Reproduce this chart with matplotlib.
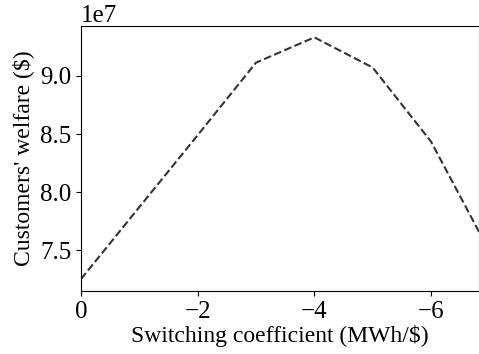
import matplotlib
matplotlib.use("Agg")
import matplotlib.pyplot as plt

# switching coefficient vs customers' welfare
switch_coef = [0, -1, -2, -3, -4, -5, -6, -7]
welfare = [7.25e7, 7.87e7, 8.49e7, 9.115e7, 9.333e7, 9.073e7, 8.435e7, 7.49e7]

plt.rcParams['font.family'] = ['Liberation Serif', 'DejaVu Serif']
plt.rcParams['mathtext.fontset'] = 'stix'

fig = plt.figure(figsize=(4.79, 3.54), dpi=100)
ax = fig.add_axes([0.1691, 0.178, 0.8309, 0.7486])
ax.plot(switch_coef, welfare, linestyle='--', color='#333333', linewidth=1.5)

ax.set_xlim(0, -6.823)
ax.set_ylim(7.147e7, 9.431e7)
ax.set_xticks([0, -2, -4, -6])
ax.set_yticks([7.5e7, 8.0e7, 8.5e7, 9.0e7])
ax.tick_params(labelsize=18)
ax.yaxis.get_offset_text().set_fontsize(18)
ax.set_xlabel('Switching coefficient (MWh/$)', fontsize=17, labelpad=2)
ax.set_ylabel("Customers' welfare ($)", fontsize=17, labelpad=4)

fig.savefig('out.png', dpi=100)
